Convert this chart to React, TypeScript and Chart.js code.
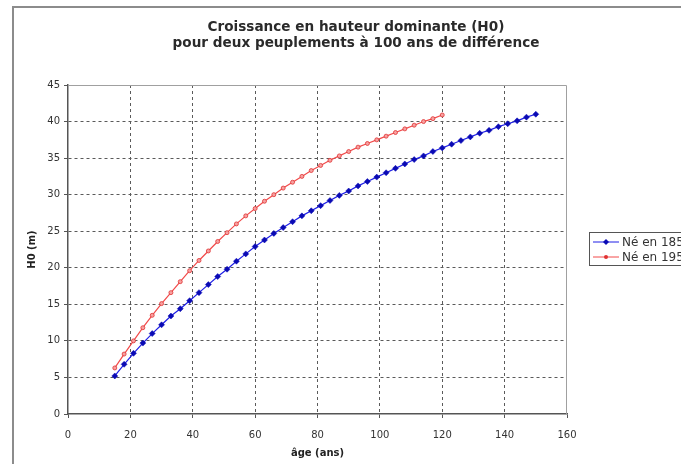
import React, { useEffect, useRef } from 'react';
import { Chart, registerables } from 'chart.js';

Chart.register(...registerables);

const TITLE_LINES = ['Croissance en hauteur dominante (H0)', 'pour deux peuplements à 100 ans de différence'];
const X_TITLE = 'âge (ans)';
const Y_TITLE = 'H0 (m)';
const SERIES_NAMES = ['Né en 1850', 'Né en 1950'];

const AGES_1850 = [15, 18, 21, 24, 27, 30, 33, 36, 39, 42, 45, 48, 51, 54, 57, 60, 63, 66, 69, 72, 75, 78, 81, 84, 87, 90, 93, 96, 99, 102, 105, 108, 111, 114, 117, 120, 123, 126, 129, 132, 135, 138, 141, 144, 147, 150];
const H0_1850 = [5.2, 6.8, 8.3, 9.7, 11.0, 12.2, 13.4, 14.4, 15.5, 16.6, 17.7, 18.8, 19.8, 20.9, 21.9, 22.9, 23.8, 24.7, 25.5, 26.3, 27.1, 27.8, 28.5, 29.2, 29.9, 30.5, 31.2, 31.8, 32.4, 33.0, 33.6, 34.2, 34.8, 35.3, 35.9, 36.4, 36.9, 37.4, 37.9, 38.4, 38.8, 39.3, 39.7, 40.1, 40.6, 41.0];

const AGES_1950 = [15, 18, 21, 24, 27, 30, 33, 36, 39, 42, 45, 48, 51, 54, 57, 60, 63, 66, 69, 72, 75, 78, 81, 84, 87, 90, 93, 96, 99, 102, 105, 108, 111, 114, 117, 120];
const H0_1950 = [6.3, 8.2, 10.0, 11.8, 13.5, 15.1, 16.6, 18.1, 19.6, 21.0, 22.3, 23.6, 24.8, 26.0, 27.1, 28.1, 29.1, 30.0, 30.9, 31.7, 32.5, 33.3, 34.0, 34.7, 35.3, 35.9, 36.5, 37.0, 37.5, 38.0, 38.5, 39.0, 39.5, 40.0, 40.4, 40.9];

const X_MIN = 0;
const X_MAX = 160;
const X_STEP = 20;
const Y_MIN = 0;
const Y_MAX = 45;
const Y_STEP = 5;

const FONT = '"DejaVu Sans", Verdana, sans-serif';
const BLUE_LINE = '#1f1fe6';
const BLUE_POINT = '#0a0ab4';
const RED_LINE = '#f24a4a';
const RED_POINT = '#e03232';

const CANVAS_W = 720;
const CANVAS_H = 464;

const decorPlugin = {
  id: 'decor',
  beforeDraw(chart: any) {
    const { ctx } = chart;
    ctx.save();
    ctx.fillStyle = '#ffffff';
    ctx.fillRect(0, 0, chart.width, chart.height);
    // outer chart frame
    ctx.strokeStyle = '#8c8c8c';
    ctx.lineWidth = 2;
    ctx.beginPath();
    ctx.moveTo(13, chart.height);
    ctx.lineTo(13, 7);
    ctx.lineTo(chart.width, 7);
    ctx.stroke();
    // title
    ctx.fillStyle = '#2a2a2a';
    ctx.font = 'bold 13.6px ' + FONT;
    ctx.textAlign = 'center';
    ctx.textBaseline = 'middle';
    ctx.fillText(TITLE_LINES[0], 356, 27);
    ctx.fillText(TITLE_LINES[1], 356, 43);
    ctx.restore();
  },
  beforeDatasetsDraw(chart: any) {
    const { ctx, chartArea } = chart;
    ctx.save();
    ctx.strokeStyle = '#a0a0a0';
    ctx.lineWidth = 1;
    ctx.beginPath();
    ctx.moveTo(chartArea.left, chartArea.top + 0.5);
    ctx.lineTo(chartArea.right - 0.5, chartArea.top + 0.5);
    ctx.lineTo(chartArea.right - 0.5, chartArea.bottom);
    ctx.stroke();
    ctx.restore();
  },
  afterDraw(chart: any) {
    const { ctx } = chart;
    const bx = 589.5;
    const by = 232.5;
    ctx.save();
    ctx.fillStyle = '#ffffff';
    ctx.fillRect(bx, by, 140, 33);
    ctx.strokeStyle = '#555';
    ctx.lineWidth = 1;
    ctx.strokeRect(bx, by, 140, 33);
    chart.data.datasets.forEach((ds: any, i: number) => {
      const y = 242 + i * 15;
      ctx.strokeStyle = ds.borderColor;
      ctx.lineWidth = 1;
      ctx.beginPath();
      ctx.moveTo(593, y);
      ctx.lineTo(619, y);
      ctx.stroke();
      ctx.fillStyle = ds.pointBorderColor;
      ctx.beginPath();
      if (i === 0) {
        ctx.moveTo(606, y - 3);
        ctx.lineTo(609, y);
        ctx.lineTo(606, y + 3);
        ctx.lineTo(603, y);
        ctx.closePath();
      } else {
        ctx.arc(606, y, 2, 0, Math.PI * 2);
      }
      ctx.fill();
      ctx.fillStyle = '#333';
      ctx.font = '12px ' + FONT;
      ctx.textAlign = 'left';
      ctx.textBaseline = 'middle';
      ctx.fillText(ds.label, 622, y + 0.5);
    });
    ctx.restore();
  },
};

export default function App() {
  const canvasRef = useRef<HTMLCanvasElement | null>(null);

  useEffect(() => {
    const canvas = canvasRef.current;
    if (!canvas) return;
    const gridColor = (edgeA: number, edgeB: number) => (c: any) =>
      c.tick && (c.tick.value === edgeA || c.tick.value === edgeB) ? 'rgba(0,0,0,0)' : '#5a5a5a';

    const chart = new Chart(canvas, {
      type: 'line',
      data: {
        datasets: [
          {
            label: SERIES_NAMES[0],
            data: AGES_1850.map((a, i) => ({ x: a, y: H0_1850[i] })),
            borderColor: BLUE_LINE,
            backgroundColor: BLUE_POINT,
            pointBackgroundColor: BLUE_POINT,
            pointBorderColor: BLUE_POINT,
            pointStyle: 'rectRot',
            pointRadius: 3,
            pointBorderWidth: 0.5,
            borderWidth: 1.2,
            tension: 0,
          },
          {
            label: SERIES_NAMES[1],
            data: AGES_1950.map((a, i) => ({ x: a, y: H0_1950[i] })),
            borderColor: RED_LINE,
            backgroundColor: RED_POINT,
            pointBackgroundColor: '#f7a0a0',
            pointBorderColor: RED_POINT,
            pointStyle: 'circle',
            pointRadius: 2,
            pointBorderWidth: 0.8,
            borderWidth: 1.2,
            tension: 0,
          },
        ],
      },
      options: {
        responsive: false,
        animation: false,
        devicePixelRatio: 1,
        layout: { padding: { left: 14, right: CANVAS_W - 567, top: 85, bottom: 0 } },
        plugins: {
          legend: { display: false },
          title: { display: false },
          tooltip: { enabled: false },
        },
        scales: {
          x: {
            type: 'linear',
            min: X_MIN,
            max: X_MAX,
            afterFit: (s: any) => {
              s.height = 50;
            },
            ticks: {
              stepSize: X_STEP,
              color: '#333',
              font: { family: FONT, size: 10 },
              padding: 11,
              maxRotation: 0,
            },
            grid: {
              color: gridColor(X_MIN, X_MAX),
              lineWidth: 1,
              tickLength: 4,
              tickColor: '#555',
              tickBorderDash: [],
            } as any,
            border: { display: true, color: '#555', width: 1.5, dash: [3, 3] },
            title: {
              display: true,
              text: X_TITLE,
              color: '#222',
              font: { family: FONT, size: 10, weight: 'bold' },
              padding: { top: 0, bottom: 5 },
            },
          },
          y: {
            type: 'linear',
            min: Y_MIN,
            max: Y_MAX,
            afterFit: (s: any) => {
              s.width = 54;
            },
            ticks: {
              stepSize: Y_STEP,
              color: '#333',
              font: { family: FONT, size: 10 },
              padding: 4,
            },
            grid: {
              color: gridColor(Y_MIN, Y_MAX),
              lineWidth: 1,
              tickLength: 4,
              tickColor: '#555',
              tickBorderDash: [],
            } as any,
            border: { display: true, color: '#555', width: 1.5, dash: [3, 3] },
            title: {
              display: true,
              text: Y_TITLE,
              color: '#222',
              font: { family: FONT, size: 10, weight: 'bold' },
              padding: { top: 12, bottom: 0 },
            },
          },
        },
      } as any,
      plugins: [decorPlugin],
    });
    return () => chart.destroy();
  }, []);

  return (
    <div
      style={{
        position: 'fixed',
        left: 0,
        top: 0,
        width: 681,
        height: 464,
        overflow: 'hidden',
        background: '#fff',
      }}
    >
      <canvas ref={canvasRef} width={CANVAS_W} height={CANVAS_H} style={{ display: 'block', width: CANVAS_W, height: CANVAS_H }} />
    </div>
  );
}
